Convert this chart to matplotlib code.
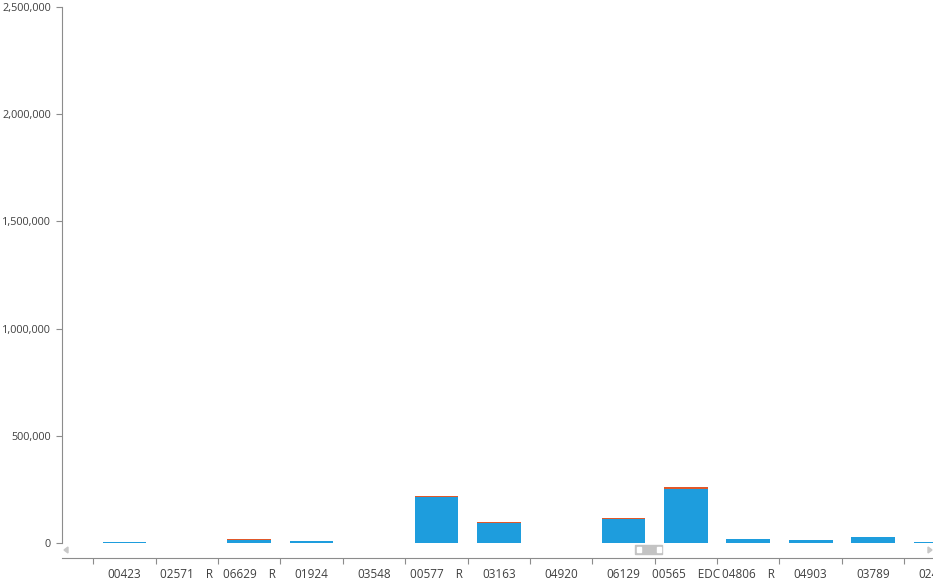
import matplotlib
matplotlib.use('Agg')
import matplotlib.pyplot as plt
from matplotlib.patches import Rectangle, Polygon
from matplotlib.ticker import FuncFormatter, FixedLocator

plt.rcParams['font.family'] = ['Open Sans', 'DejaVu Sans']

# data
labels = ['00423', '02571    R', '06629    R', '01924', '03548', '00577    R',
          '03163', '04920', '06129', '00565    EDC', '04806    R', '04903',
          '03789', '02481']
blue_vals = [3500, 0, 14000, 9000, 0, 213000, 93000, 0, 112000, 252000,
             19000, 14000, 29000, 3000]
red_vals = [0, 0, 4500, 0, 0, 5000, 4500, 0, 4500, 9000, 0, 0, 0, 0]
y_ticks = [0, 500000, 1000000, 1500000, 2000000, 2500000]

BLUE = '#1e9ddd'
RED = '#e0582a'
TXT = '#404040'
LINE = '#8c8c8c'

W, H = 933, 586
fig = plt.figure(figsize=(W / 100, H / 100), dpi=100)

# axes spans from pixel y=7 (2.5M) down to the x axis line at y=558
px_per_unit = (543 - 7) / 2500000
ymin = -(558 - 543) / px_per_unit
ax = fig.add_axes([62 / W, (H - 558) / H, (W - 62) / W, (558 - 7) / H])
ax.set_ylim(ymin, 2500000)

x = list(range(len(labels)))
step = 62.38
ax.set_xlim((62 - 124.5) / step, (933 - 124.5) / step)

ax.bar(x, blue_vals, width=0.7, color=BLUE, linewidth=0)
ax.bar(x, red_vals, width=0.7, bottom=blue_vals, color=RED, linewidth=0)

for s in ['top', 'right']:
    ax.spines[s].set_visible(False)
ax.spines['left'].set_bounds(0, 2500000)
ax.spines['left'].set_color(LINE)
ax.spines['bottom'].set_color(LINE)

ax.yaxis.set_major_locator(FixedLocator(y_ticks))
ax.yaxis.set_major_formatter(FuncFormatter(lambda v, p: f'{int(v):,}'))
ax.tick_params(axis='y', length=4, color=LINE, labelcolor=TXT,
               labelsize=7.8, pad=4)

bounds = [i - 0.5 for i in range(len(labels))]
ax.set_xticks(bounds)
ax.set_xticklabels([])
ax.tick_params(axis='x', length=4, color=LINE, direction='out')

for i, lab in enumerate(labels):
    ax.text(i, -0.03, lab, transform=ax.get_xaxis_transform(),
            ha='center', va='center', fontsize=8.5, color=TXT, clip_on=False)

# horizontal scrollbar
def fy(py):
    return (H - py) / H

fig.patches.append(Polygon([[68 / W, fy(547)], [68 / W, fy(553)], [64 / W, fy(550)]],
                           closed=True, color='#c8c8c8', transform=fig.transFigure))
fig.patches.append(Polygon([[928 / W, fy(547)], [928 / W, fy(553)], [932 / W, fy(550)]],
                           closed=True, color='#c8c8c8', transform=fig.transFigure))
fig.patches.append(Rectangle((635 / W, fy(553.7)), 27 / W, 9 / H,
                             color='#c3c3c3', transform=fig.transFigure))
for sx in [637, 657]:
    fig.patches.append(Rectangle((sx / W, fy(551.5)), 3.5 / W, 4.5 / H,
                                 color='white', transform=fig.transFigure))

fig.savefig('out.png', dpi=100)
